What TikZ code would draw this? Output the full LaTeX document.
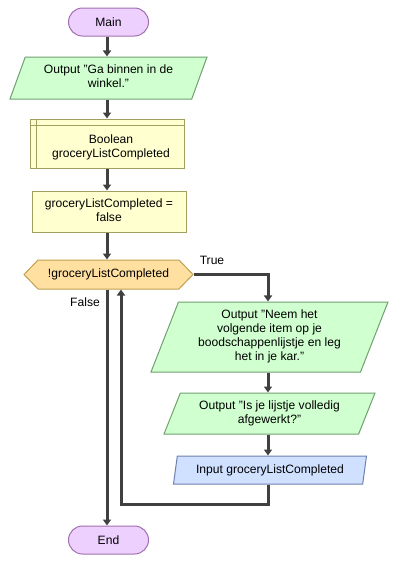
\documentclass[tikz,border=0pt]{standalone}
\usepackage{fontspec}
\setmainfont{Liberation Sans}
\usetikzlibrary{shapes.geometric,shapes.misc,shapes.symbols,arrows.meta}
\definecolor{termfill}{RGB}{238,208,255}
\definecolor{termdraw}{RGB}{160,112,176}
\definecolor{outfill}{RGB}{208,255,208}
\definecolor{outdraw}{RGB}{112,160,112}
\definecolor{declfill}{RGB}{255,255,208}
\definecolor{decldraw}{RGB}{160,160,96}
\definecolor{decfill}{RGB}{255,224,160}
\definecolor{decdraw}{RGB}{192,160,80}
\definecolor{infill}{RGB}{208,224,255}
\definecolor{indraw}{RGB}{112,128,176}
\definecolor{linec}{RGB}{64,64,64}
\newcommand{\mylines}[1]{\begin{tabular}{@{}c@{}}#1\end{tabular}}
\tikzset{
  base/.style={line width=1pt, inner sep=2pt, font=\fontsize{12.1}{14}\selectfont},
  term/.style={base, shape=rounded rectangle, fill=termfill, draw=termdraw, minimum width=84pt, minimum height=28pt},
  outbox/.style={base, shape=trapezium, trapezium stretches body, fill=outfill, draw=outdraw},
  inbox/.style={base, shape=trapezium, trapezium stretches body, fill=infill, draw=indraw},
  declbox/.style={base, shape=rectangle, fill=declfill, draw=decldraw},
  decbox/.style={base, shape=signal, signal to=west and east, fill=decfill, draw=decdraw},
  plaintext/.style={inner sep=0pt, font=\fontsize{12.1}{14}\selectfont},
  flow/.style={draw=linec, line width=3pt, -{Triangle[length=6pt,width=8pt]}}
}
\begin{document}
\begin{tikzpicture}[x=1pt,y=-1pt]
\useasboundingbox (0,0) rectangle (403,563);
\node[term] (main) at (108.5,22) {Main};
\node[outbox, trapezium left angle=64.5, trapezium right angle=115.5, minimum width=197pt, minimum height=42pt] (out1) at (108.5,78) {\mylines{Output "Ga binnen in de\\winkel."}};
\node[declbox, minimum width=154pt, minimum height=49pt] (decl) at (107,143.5) {};
\draw[decldraw, line width=1pt] ([yshift=-7pt]decl.north west) -- ([yshift=-7pt]decl.north east);
\draw[decldraw, line width=1pt] ([xshift=7pt]decl.north west) -- ([xshift=7pt]decl.south west);
\node[plaintext] (decltext) at (111,147.5) {\mylines{Boolean\\groceryListCompleted}};
\node[declbox, minimum width=154pt, minimum height=41pt] (assign) at (109,211.5) {\mylines{groceryListCompleted =\\false}};
\node[decbox, signal pointer angle=92, minimum width=169pt, minimum height=29pt] (dec) at (108.5,274.5) {!groceryListCompleted};
\node[outbox, trapezium left angle=65.4, trapezium right angle=114.6, minimum width=237pt, minimum height=70pt] (out2) at (269.5,337) {\mylines{Output "Neem het\\volgende item op je\\boodschappenlijstje en leg\\het in je kar."}};
\node[outbox, trapezium left angle=62.9, trapezium right angle=117.1, minimum width=211pt, minimum height=41pt] (out3) at (269.5,413.5) {\mylines{Output "Is je lijstje volledig\\afgewerkt?"}};
\node[inbox, trapezium left angle=76, trapezium right angle=104, minimum width=193pt, minimum height=28pt] (inp) at (270,470) {Input groceryListCompleted};
\node[term] (end) at (108.5,540) {End};
\node[plaintext] (truelbl) at (212,260) {True};
\node[plaintext] (falselbl) at (85,302) {False};
\coordinate (loopc) at (121,504);
\coordinate (truec) at (268,274.5);
\draw[flow] (main.south -| 107,0) -- (out1.north -| 107,0);
\draw[flow] (out1.south -| 107,0) -- (decl.north -| 107,0);
\draw[flow] (decl.south -| 107,0) -- (assign.north -| 107,0);
\draw[flow] (assign.south -| 107,0) -- (dec.north -| 107,0);
\draw[flow] (dec.east) -- (truec) -- (truec |- out2.north);
\draw[flow] (out2.south -| truec) -- (out3.north -| truec);
\draw[flow] (out3.south -| truec) -- (inp.north -| truec);
\draw[flow] (inp.south -| truec) |- (loopc) -- (loopc |- dec.south);
\draw[flow] (dec.south -| 107,0) -- (end.north -| 107,0);
\end{tikzpicture}
\end{document}
